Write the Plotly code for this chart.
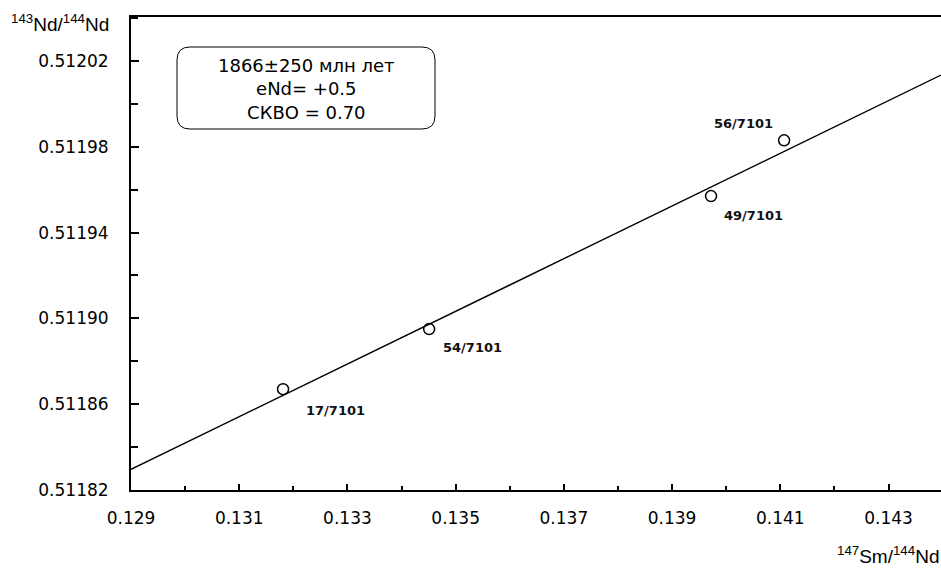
import math
import plotly.graph_objects as go

# ---- data ----
sample_names = ["17/7101", "54/7101", "49/7101", "56/7101"]
sm_nd = [0.13181, 0.13451, 0.13972, 0.14107]
nd_nd = [0.511867, 0.511895, 0.511957, 0.511983]

age_ma = 1866
decay_const = 6.54e-12
isochron_intercept = 0.5102457
isochron_x = [0.129, 0.14397]
slope = math.exp(decay_const * age_ma * 1e6) - 1
isochron_y = [isochron_intercept + slope * v for v in isochron_x]

x_ticks = [0.129, 0.131, 0.133, 0.135, 0.137, 0.139, 0.141, 0.143]
y_ticks = [0.51182, 0.51186, 0.51190, 0.51194, 0.51198, 0.51202]

box_lines = ["1866±250 млн лет", "eNd= +0.5", "СКВО = 0.70"]

# label offsets (px) relative to points
label_dx = [52, 43, 42, -41]
label_dy = [-21, -18, -19, 17]

W, H = 941, 568
L, R, T, B = 131, 0, 17, 78
pw, ph = W - L - R, H - T - B

def px(xp):
    return (xp - L) / pw

def py(yp):
    return (H - B - yp) / ph

fig = go.Figure()
fig.add_trace(go.Scatter(x=isochron_x, y=isochron_y, mode="lines",
                         line=dict(color="black", width=1.4),
                         hoverinfo="skip", showlegend=False))
fig.add_trace(go.Scatter(x=sm_nd, y=nd_nd, mode="markers",
                         marker=dict(symbol="circle-open", size=11,
                                     color="black", line=dict(width=1.5)),
                         showlegend=False))

for name, xv, yv, dx, dy in zip(sample_names, sm_nd, nd_nd, label_dx, label_dy):
    fig.add_annotation(x=xv, y=yv, text=name, showarrow=False,
                       xshift=dx, yshift=dy,
                       font=dict(family="DejaVu Sans", size=13, color="#111",
                                 weight="bold"))

# rounded box
x0, x1 = px(177), px(435)
y0, y1 = py(129), py(47)
rx, ry = 13 / pw, 13 / ph
path = (f"M {x0+rx},{y1} L {x1-rx},{y1} Q {x1},{y1} {x1},{y1-ry} "
        f"L {x1},{y0+ry} Q {x1},{y0} {x1-rx},{y0} "
        f"L {x0+rx},{y0} Q {x0},{y0} {x0},{y0+ry} "
        f"L {x0},{y1-ry} Q {x0},{y1} {x0+rx},{y1} Z")
fig.add_shape(type="path", xref="paper", yref="paper", path=path,
              line=dict(color="black", width=1), fillcolor="white")
fig.add_annotation(xref="paper", yref="paper", x=px(306), y=py(89),
                   text="<br>".join(box_lines), showarrow=False,
                   align="center", xanchor="center", yanchor="middle",
                   font=dict(family="DejaVu Sans", size=18, color="black"))

# axis titles
fig.add_annotation(xref="paper", yref="paper", x=px(111), y=py(23),
                   xanchor="right", yanchor="middle", showarrow=False,
                   text="<sup>143</sup>Nd/<sup>144</sup>Nd",
                   font=dict(family="Liberation Sans", size=19, color="black"))
fig.add_annotation(xref="paper", yref="paper", x=1, y=py(555),
                   xanchor="right", yanchor="middle", showarrow=False,
                   text="<sup>147</sup>Sm/<sup>144</sup>Nd",
                   font=dict(family="Liberation Sans", size=19, color="black"))

tick_font = dict(family="DejaVu Sans", size=17, color="black")
fig.update_xaxes(range=[0.129 - 1e-9, 0.14397], tickvals=x_ticks,
                 ticktext=[f"{v:.3f}" for v in x_ticks],
                 ticks="inside", ticklen=6, tickwidth=1.5, tickcolor="black",
                 minor=dict(ticks="inside", ticklen=4, dtick=0.001, tick0=0.129,
                            tickwidth=1.5, tickcolor="black"),
                 showline=True, linecolor="black", linewidth=2, mirror=True,
                 showgrid=False, zeroline=False, tickfont=tick_font,
                 ticklabelstandoff=12)
fig.update_yaxes(range=[0.51182 - 1e-10, 0.5120405], tickvals=y_ticks,
                 ticktext=[f"{v:.5f}" for v in y_ticks],
                 ticks="inside", ticklen=8, tickwidth=2, tickcolor="black",
                 minor=dict(ticks="inside", ticklen=7, dtick=0.00002,
                            tick0=0.51182, tickwidth=2, tickcolor="black"),
                 showline=True, linecolor="black", linewidth=2,
                 showgrid=False, zeroline=False, tickfont=tick_font,
                 ticklabelstandoff=17)

fig.update_layout(width=W, height=H, margin=dict(l=L, r=R, t=T, b=B),
                  plot_bgcolor="white", paper_bgcolor="white",
                  showlegend=False)

fig.write_html("out.html",
               config={"displayModeBar": False},
               post_script="document.body.style.margin='0';"
                           "document.body.style.padding='0';")
